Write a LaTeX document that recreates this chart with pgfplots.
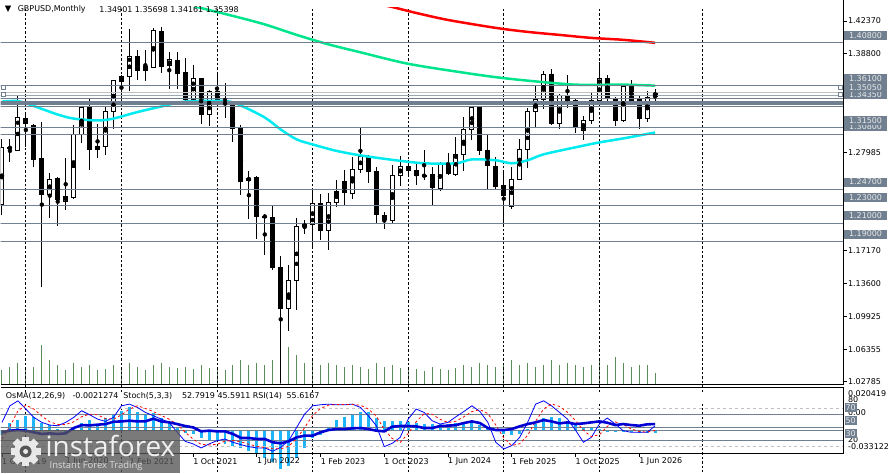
\documentclass[border=0pt]{standalone}
\usepackage{fontspec}
\setmainfont{DejaVu Sans}
\newfontfamily\osans{Open Sans}
\usepackage{pgfplots}
\usepackage{pgfplotstable}
\pgfplotsset{compat=1.18}

\definecolor{lvl}{RGB}{112,128,144}
\definecolor{bidc}{RGB}{192,192,192}
\definecolor{maRed}{RGB}{255,0,0}
\definecolor{maGreen}{RGB}{0,228,140}
\definecolor{maCyan}{RGB}{0,235,240}
\definecolor{osma}{RGB}{30,180,250}
\definecolor{stochc}{RGB}{0,0,255}
\definecolor{rsic}{RGB}{0,0,210}
\definecolor{volc}{RGB}{90,140,90}
\definecolor{boxtxt}{RGB}{232,232,232}
\definecolor{logobg}{RGB}{85,85,85}

\pgfplotstableread{
k o h l c
0 1.2311 1.3021 1.2191 1.2934
2 1.2901 1.3513 1.2895 1.3261
6 1.2420 1.2650 1.2158 1.2584
8 1.2344 1.2813 1.2245 1.2398
9 1.2387 1.3174 1.2365 1.3076
10 1.3076 1.3392 1.2977 1.3371
12 1.2912 1.3185 1.2813 1.2945
13 1.2945 1.3392 1.2846 1.3327
14 1.3327 1.3677 1.3130 1.3666
15 1.3655 1.3731 1.3447 1.3709
16 1.3709 1.4234 1.3556 1.3928
18 1.3775 1.4004 1.3666 1.3819
19 1.3808 1.4245 1.3800 1.4212
21 1.3830 1.3983 1.3578 1.3895
24 1.3458 1.3840 1.3425 1.3688
26 1.3294 1.3567 1.3163 1.3545
31 1.2573 1.2671 1.2147 1.2595
36 1.1164 1.1644 1.0923 1.1470
37 1.1470 1.2158 1.1153 1.2060
38 1.2060 1.2136 1.1983 1.2092
39 1.2092 1.2453 1.1819 1.2322
41 1.2016 1.2431 1.1808 1.2333
42 1.2333 1.2573 1.2278 1.2453
44 1.2431 1.2824 1.2365 1.2693
45 1.2693 1.3141 1.2650 1.2835
49 1.2136 1.2737 1.2103 1.2628
50 1.2628 1.2835 1.2507 1.2726
55 1.2486 1.2770 1.2453 1.2748
57 1.2639 1.3043 1.2617 1.2857
58 1.2857 1.3272 1.2671 1.3130
59 1.3130 1.3392 1.3010 1.3371
64 1.2289 1.2715 1.2256 1.2584
65 1.2584 1.3021 1.2573 1.2912
66 1.2912 1.3371 1.2704 1.3327
67 1.3327 1.3611 1.3152 1.3458
68 1.3458 1.3775 1.3360 1.3731
70 1.3196 1.3524 1.3130 1.3502
73 1.3119 1.3283 1.3010 1.3229
74 1.3229 1.3535 1.3185 1.3447
75 1.3447 1.3873 1.3440 1.3688
78 1.3229 1.3611 1.3207 1.3600
81 1.3250 1.3556 1.3207 1.3480
82 1.34901 1.35698 1.34161 1.35398
}\bull

\pgfplotstableread{
k o h l c
1 1.2934 1.3021 1.2770 1.2923
3 1.3250 1.3316 1.2934 1.3196
4 1.3174 1.3185 1.2715 1.2802
5 1.2813 1.3207 1.1404 1.2409
7 1.2595 1.2606 1.2070 1.2355
11 1.3371 1.3480 1.2682 1.2912
17 1.3928 1.4004 1.3677 1.3775
20 1.4212 1.4256 1.3753 1.3819
22 1.3895 1.3983 1.3578 1.3742
23 1.3753 1.3917 1.3436 1.3458
25 1.3688 1.3695 1.3185 1.3294
27 1.3545 1.3753 1.3403 1.3447
28 1.3425 1.3644 1.3261 1.3403
29 1.3392 1.3403 1.2988 1.3141
30 1.3141 1.3174 1.2409 1.2562
32 1.2606 1.2617 1.1928 1.2169
33 1.2180 1.2202 1.1754 1.2170
34 1.2169 1.2289 1.1590 1.1612
35 1.1622 1.1743 1.0350 1.1164
40 1.2322 1.2420 1.1917 1.2016
43 1.2562 1.2682 1.2300 1.2431
46 1.2824 1.2846 1.2540 1.2671
47 1.2671 1.2715 1.2103 1.2190
48 1.2190 1.2223 1.2038 1.2136
51 1.2726 1.2792 1.2606 1.2682
52 1.2682 1.2759 1.2518 1.2628
53 1.2628 1.2901 1.2573 1.2617
54 1.2639 1.2715 1.2300 1.2486
56 1.2748 1.2868 1.2628 1.2639
60 1.3371 1.3392 1.2846 1.2901
61 1.2901 1.3065 1.2475 1.2737
62 1.2726 1.2824 1.2475 1.2507
63 1.2518 1.2660 1.2081 1.2398
69 1.3731 1.3797 1.3174 1.3196
71 1.3502 1.3731 1.3371 1.3425
72 1.3447 1.3480 1.3087 1.3163
76 1.3688 1.3731 1.3447 1.3480
77 1.3458 1.3491 1.3163 1.3229
79 1.3600 1.3677 1.3425 1.3447
80 1.3458 1.3502 1.3130 1.3250
}\bear

\pgfplotstableread{
k v
0 15
1 18
2 22
3 15
4 18
5 40
6 25
7 20
8 15
9 22
10 18
11 20
12 15
13 16
14 20
15 15
16 22
17 18
18 15
19 20
20 22
21 18
22 17
23 18
24 16
25 20
26 17
27 18
28 15
29 20
30 25
31 20
32 22
33 20
34 25
35 50
36 38
37 30
38 22
39 25
40 20
41 22
42 20
43 18
44 20
45 18
46 16
47 22
48 18
49 20
50 17
51 15
52 16
53 14
54 18
55 16
56 15
57 17
58 20
59 18
60 22
61 20
62 18
63 22
64 25
65 20
66 22
67 18
68 20
69 25
70 20
71 22
72 20
73 18
74 20
75 25
76 20
77 28
78 22
79 18
80 20
81 20
82 12
}\vol

\pgfplotstableread{
k v
0 -0.0034
1 0.0068
2 0.0090
3 0.0125
4 0.0115
5 0.0068
6 0.0043
7 0.0017
8 -0.0017
9 0.0034
10 0.0068
11 0.0094
12 0.0051
13 0.0111
14 0.0136
15 0.0170
16 0.0204
17 0.0162
18 0.0136
19 0.0153
20 0.0111
21 0.0068
22 0.0034
23 -0.0017
24 -0.0026
25 -0.0060
26 -0.0077
27 -0.0085
28 -0.0111
29 -0.0136
30 -0.0145
31 -0.0179
32 -0.0204
33 -0.0238
34 -0.0272
35 -0.0331
36 -0.0306
37 -0.0238
38 -0.0145
39 -0.0068
40 -0.0034
41 0.0026
42 0.0094
43 0.0119
44 0.0145
45 0.0162
46 0.0162
47 0.0111
48 0.0081
49 0.0081
50 0.0081
51 0.0077
52 0.0068
53 0.0060
54 0.0060
55 0.0060
56 0.0060
57 0.0065
58 0.0077
59 0.0068
60 0.0051
61 0.0031
62 0.0017
63 -0.0026
64 -0.0038
65 -0.0026
66 0.0017
67 0.0055
68 0.0106
69 0.0115
70 0.0106
71 0.0085
72 0.0060
73 0.0034
74 0.0020
75 0.0017
76 -0.0004
77 -0.0010
78 -0.0014
79 -0.0014
80 -0.0017
81 -0.0017
82 -0.0021274
}\osmatab

\pgfplotstableread{
k main sig rsi
0 58.2 32 42.7
1 84.0 52 45.3
2 91.8 76 46.3
3 78.9 85 45.3
4 65.9 79 42.7
5 58.2 68 40.1
6 54.0 59 41.1
7 53.0 55 40.1
8 58.2 55 41.1
9 65.9 59 49.4
10 76.3 67 54.0
11 70.1 71 53.5
12 63.3 70 54.6
13 59.7 64 55.6
14 65.9 63 59.2
15 84.0 70 59.7
16 86.6 79 60.8
17 81.5 84 59.7
18 73.7 80 59.7
19 68.5 75 63.9
20 63.3 69 59.7
21 58.2 63 58.2
22 42.7 55 55.6
23 28.7 43 52.5
24 24.6 32 50.4
25 18.4 24 44.2
26 24.6 23 45.3
27 29.7 24 44.2
28 32.3 29 44.2
29 27.2 30 40.1
30 23.5 28 33.9
31 20.4 24 33.9
32 18.4 21 32.3
33 18.4 19 32.3
34 13.2 17 27.2
35 19.4 17 25.6
36 29.7 21 28.7
37 50.4 33 34.9
38 71.1 50 37.5
39 84.0 69 37.5
40 85.6 80 42.7
41 86.6 85 46.3
42 85.6 86 47.8
43 85.6 86 47.8
44 86.6 86 48.9
45 81.5 85 49.4
46 68.5 79 47.8
47 53.0 68 45.3
48 20.4 47 44.2
49 25.6 33 51.5
50 34.9 27 52.5
51 63.3 41 52.5
52 78.9 59 52.0
53 73.7 72 49.4
54 60.8 71 49.4
55 55.6 63 52.5
56 58.2 58 53.0
57 67.0 60 54.0
58 75.2 67 57.2
59 84.0 75 59.7
60 75.2 78 57.2
61 58.2 72 49.4
62 27.2 54 46.3
63 16.8 34 46.3
64 22.0 22 47.8
65 34.9 25 52.0
66 58.2 38 55.6
67 86.6 60 58.2
68 91.8 79 61.8
69 84.0 87 59.7
70 73.7 83 56.6
71 63.3 74 58.2
72 46.3 61 55.6
73 27.2 46 56.6
74 34.9 36 58.2
75 55.6 39 59.7
76 64.9 52 57.7
77 55.6 59 54.0
78 45.3 55 55.6
79 42.7 48 54.0
80 42.7 44 53.0
81 42.7 43 55.1
82 52.79 45.59 55.62
}\stochtab

\pgfplotsset{
  panel/.style={scale only axis, width=846pt, xmin=-0.1625, xmax=105.5875,
    hide axis, anchor=south west},
  candle/.style={only marks, mark=none, error bars/.cd, y dir=both, y explicit,
    error mark=none},
}
\newcommand\lab{\fontsize{8}{9}\selectfont}

\begin{document}
\begin{tikzpicture}[x=1pt,y=1pt]
\fill[white] (0,0) rectangle (889,475);

% volumes
\begin{axis}[panel, at={(0,89)}, height=386pt, ymin=0, ymax=386]
\addplot[ycomb, volc, line width=1pt] table[x=k,y=v]{\vol};
\end{axis}

% main price panel
\begin{axis}[panel, at={(0,89)}, height=386pt, ymin=1.02458, ymax=1.44632]
\pgfplotsinvokeforeach{3,15,27,39,51,63,75,88}{
  \addplot[black, line width=0.8pt, dash pattern=on 2.5pt off 2pt] coordinates {(#1,1.0) (#1,1.5)};
}
% wicks
\addplot[candle, error bar style={draw=black, line width=1pt}]
  table[x=k, y expr={(\thisrow{h}+\thisrow{l})/2}, y error expr={(\thisrow{h}-\thisrow{l})/2}]{\bull};
\addplot[candle, error bar style={draw=black, line width=1pt}]
  table[x=k, y expr={(\thisrow{h}+\thisrow{l})/2}, y error expr={(\thisrow{h}-\thisrow{l})/2}]{\bear};
% bear bodies
\addplot[candle, error bar style={draw=black, line width=5pt}]
  table[x=k, y expr={(\thisrow{o}+\thisrow{c})/2}, y error expr={(\thisrow{o}-\thisrow{c})/2+0.0003}]{\bear};
% bull bodies
\addplot[candle, error bar style={draw=black, line width=5pt}]
  table[x=k, y expr={(\thisrow{o}+\thisrow{c})/2}, y error expr={(\thisrow{c}-\thisrow{o})/2+0.00055}]{\bull};
\addplot[candle, error bar style={draw=white, line width=3pt}]
  table[x=k, y expr={(\thisrow{o}+\thisrow{c})/2}, y error expr={(\thisrow{c}-\thisrow{o})/2-0.00055}]{\bull};
% moving averages
\addplot[maRed, line width=2.5pt, smooth] coordinates {
(46,1.4530) (49,1.4474) (52,1.4409) (56,1.4332) (62,1.4245) (66,1.4201) (70,1.4168) (74,1.4135) (78,1.4114) (82,1.4081)};
\addplot[maGreen, line width=2.5pt, smooth] coordinates {
(24,1.4485) (26,1.4441) (29,1.4376) (33,1.4283) (37,1.4168) (41,1.4064) (45,1.3977) (51,1.3851) (58,1.3753) (62,1.3704) (66,1.3666) (72,1.3622) (78,1.3622) (82,1.3611)};
\addplot[maCyan, line width=2.5pt, smooth] coordinates {
(0,1.3436) (2,1.3442) (4,1.3387) (7,1.3294) (9,1.3250) (12,1.3229) (14,1.3250) (17,1.3321) (20,1.3382) (23,1.3436) (28,1.3442) (30,1.3392) (33,1.3261) (35,1.3130) (37,1.3021) (39,1.2966) (42,1.2895) (45,1.2846) (49,1.2797) (53,1.2759) (57,1.2759) (59,1.2802) (62,1.2792) (64,1.2759) (66,1.2792) (68,1.2857) (72,1.2934) (75,1.2988) (78,1.3032) (82,1.3097)};
% horizontal levels
\pgfplotsinvokeforeach{1.408,1.361,1.3465,1.3382,1.315,1.308,1.247,1.230,1.210,1.190}{
  \addplot[lvl, line width=1pt] coordinates {(-1,#1) (110,#1)};
}
\addplot[lvl, line width=4pt] coordinates {(-1,1.3421) (110,1.3421)};
\addplot[bidc, line width=1pt] coordinates {(-1,1.35398) (110,1.35398)};
\addplot[lvl!70!white, line width=1pt] coordinates {(-1,1.3505) (110,1.3505)};
\end{axis}

% OsMA (plotted in thousandths of the price unit)
\begin{axis}[panel, at={(0,20)}, height=66.7pt, ymin=-34.6, ymax=22.1]
\pgfplotsinvokeforeach{3,15,27,39,51,63,75,88}{
  \addplot[black, line width=0.8pt, dash pattern=on 2.5pt off 2pt] coordinates {(#1,-40) (#1,30)};
}
\addplot[ycomb, osma, line width=3pt] table[x=k, y expr={1000*\thisrow{v}}]{\osmatab};
\addplot[lvl, line width=1pt] coordinates {(-1,0) (110,0)};
\end{axis}

% Stoch & RSI
\begin{axis}[panel, at={(0,20)}, height=66.7pt, ymin=-1.24, ymax=102.17]
\addplot[bidc, line width=1pt, dash pattern=on 3pt off 3pt] coordinates {(-1,80) (110,80)};
\addplot[bidc, line width=1pt, dash pattern=on 3pt off 3pt] coordinates {(-1,20) (110,20)};
\pgfplotsinvokeforeach{70,50,30}{
  \addplot[lvl, line width=1pt] coordinates {(-1,#1) (110,#1)};
}
\addplot[stochc, line width=0.8pt] table[x=k,y=main]{\stochtab};
\addplot[red, line width=0.8pt, dash pattern=on 2.5pt off 2.5pt] table[x=k,y=sig]{\stochtab};
\addplot[rsic, line width=2.6pt] table[x=k,y=rsi]{\stochtab};
\end{axis}

% frames
\draw[black, line width=1pt] (846.5,475) -- (846.5,89.5) -- (0,89.5);
\draw[black, line width=1pt] (0,86.5) -- (846.5,86.5) -- (846.5,20) -- (0,20);

% right price scale
\foreach \yy/\tt in {454.3/1.42370, 421.6/1.38800, 388.8/1.35230, 355.8/1.31655, 322.6/1.27985, 290.0/1.24415, 257.3/1.20845, 223.7/1.17170, 191.0/1.13600, 157.3/1.09925, 124.7/1.06355, 92.0/1.02785}{
  \draw[black, line width=0.8pt] (846.5,\yy) -- (850,\yy);
  \node[anchor=west, inner sep=0pt, font=\lab] at (851,\yy) {\tt};
}
\foreach \yy/\tt in {439.9/1.40800, 396.9/1.36100, 380.9/1.34350, 387.3/1.35050, 348.4/1.30800, 354.8/1.31500, 292.6/1.24700, 277.0/1.23000, 258.7/1.21000, 240.4/1.19000}{
  \node[anchor=west, inner sep=0pt, fill=lvl, text=boxtxt, minimum height=9pt, minimum width=43pt, font=\lab] at (847,\yy) {\tt};
}
% handles of selected lines
\foreach \yy in {387.3,380.9}{
  \draw[lvl, fill=white, line width=0.7pt] (1,\yy-2) rectangle (5,\yy+2);
  \draw[lvl, fill=white, line width=0.7pt] (841,\yy-2) rectangle (845,\yy+2);
}

% indicator scale
\node[anchor=west, inner sep=0pt, font=\lab] at (851,80) {0.020419};
\node[anchor=west, inner sep=0pt, font=\lab] at (851,74.3) {80};
\node[anchor=west, inner sep=0pt, font=\lab] at (851,60.7) {0.00};
\node[anchor=west, inner sep=0pt, font=\lab] at (851,34) {20};
\node[anchor=west, inner sep=0pt, font=\lab] at (851,26.7) {-0.033122};
\foreach \yy/\tt in {65.7/70, 52.7/50, 39.7/30}{
  \node[anchor=west, inner sep=1pt, fill=lvl, text=boxtxt, minimum height=9pt, font=\lab] at (847.5,\yy) {\tt};
}

% titles
\node[anchor=west, inner sep=0pt, font=\fontsize{8.5}{9}\selectfont] at (4,466) {▼};
\node[anchor=west, inner sep=0pt, font=\lab] at (17,466) {GBPUSD,Monthly};
\node[anchor=west, inner sep=0pt, font=\lab] at (99,466) {1.34901 1.35698 1.34161 1.35398};
\node[anchor=west, inner sep=0pt, font=\lab] at (5,77.7) {OsMA(12,26,9)};
\node[anchor=west, inner sep=0pt, font=\lab] at (72,77.7) {-0.0021274};
\node[anchor=west, inner sep=0pt, font=\lab] at (123,77.7) {Stoch(5,3,3)};
\node[anchor=west, inner sep=0pt, font=\lab] at (182,77.7) {52.7919 45.5911};
\node[anchor=west, inner sep=0pt, font=\lab] at (253,77.7) {RSI(14)};
\node[anchor=west, inner sep=0pt, font=\lab] at (287,77.7) {55.6167};

% date axis
\foreach \xx/\tt in {1.3/1 Oct 2019, 65.3/1 Jun 2020, 129.3/1 Feb 2021, 193.3/1 Oct 2021, 257.3/1 Jun 2022, 321.3/1 Feb 2023, 385.3/1 Oct 2023, 449.3/1 Jun 2024, 513.3/1 Feb 2025, 577.3/1 Oct 2025, 641.3/1 Jun 2026}{
  \draw[black, line width=0.8pt] (\xx,20) -- (\xx,16);
  \node[anchor=west, inner sep=0pt, font=\lab] at (\xx,12) {\tt};
}

% watermark logo
\fill[logobg, opacity=0.78] (0,0) rectangle (180,44);
\begin{scope}[white!82!gray]
\foreach \a in {0,45,...,315}{
  \fill[rotate around={\a:(25,22)}] (21.5,31) rectangle (28.5,37);
}
\fill (25,22) circle (11.5);
\fill[logobg] (25,22) circle (6);
\fill (25,22) circle (2.5);
\end{scope}
\node[anchor=base west, inner sep=0pt, text=white!88!gray, font=\osans\fontsize{28}{28}\selectfont] at (45,17) {instaforex};
\node[anchor=base west, inner sep=0pt, text=white!72!gray, font=\osans\fontsize{9.5}{10}\selectfont] at (49,4.5) {Instant Forex Trading};
\end{tikzpicture}
\end{document}
